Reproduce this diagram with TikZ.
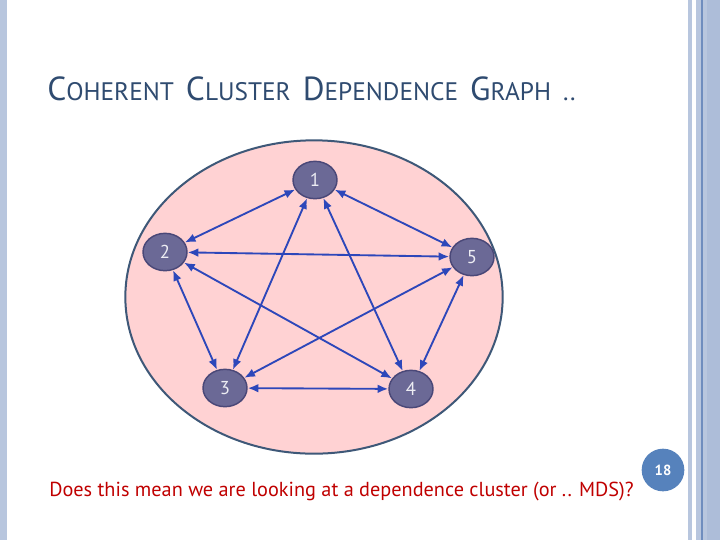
\documentclass[tikz,border=0pt]{standalone}
\usepackage{fontspec}
\setmainfont{PT Sans}
\usetikzlibrary{arrows.meta,shapes.geometric}
\definecolor{barblue}{HTML}{B8C6DE}
\definecolor{barline}{HTML}{6F8DBE}
\definecolor{titleblue}{HTML}{2F4B70}
\definecolor{clusterpink}{HTML}{FFD2D3}
\definecolor{clusterline}{HTML}{3E5878}
\definecolor{vertexfill}{HTML}{6B6996}
\definecolor{vertexline}{HTML}{4A4878}
\definecolor{edgeblue}{HTML}{2D47BA}
\definecolor{noteRed}{HTML}{C00000}
\definecolor{pageblue}{HTML}{5682BC}
\newcommand{\capbig}[1]{{\fontsize{25}{27}\selectfont #1}}
\newcommand{\capsmall}[1]{{\fontsize{19}{21}\selectfont #1}}
\newcommand{\capgap}{\hspace{9pt}}
\tikzset{
  vertex/.style={ellipse, draw=vertexline, line width=1.1pt, fill=vertexfill, minimum width=33pt, minimum height=28pt, inner sep=0pt, text=white!88!vertexfill, font=\fontsize{14}{14}\selectfont},
  cluster/.style={ellipse, draw=clusterline, line width=1.5pt, fill=clusterpink, minimum width=283pt, minimum height=235pt},
  link/.style={{Latex[length=8pt,width=6.5pt]}-{Latex[length=8pt,width=6.5pt]}, line width=1.4pt, draw=edgeblue},
  pagemark/.style={circle, fill=pageblue, minimum size=32pt, inner sep=0pt, text=white, font=\bfseries\fontsize{11}{11}\selectfont}
}

\begin{document}
\begin{tikzpicture}[x=0.75pt, y=-0.75pt]
  \useasboundingbox (0,0) rectangle (720,540);
  \fill[white] (0,0) rectangle (720,540);
  % slide borders
  \fill[barblue] (0,0) rectangle (7,540);
  \fill[barblue] (688,0) rectangle (692,540);
  \fill[barblue] (696,0) rectangle (720,540);
  \fill[barblue!85!barline] (707,0) rectangle (720,540);
  \draw[barline, line width=0.9pt] (702,0) -- (702,540);

  \node[anchor=base west, text=titleblue, inner sep=0pt] (title) at (47,100)
    {\capbig{C}\capsmall{OHERENT}\capgap\capbig{C}\capsmall{LUSTER}\capgap\capbig{D}\capsmall{EPENDENCE}\capgap\capbig{G}\capsmall{RAPH}\capgap\capsmall{..}};

  \node[cluster] (cluster) at (314,297) {};

  \node[vertex] (v1) at (315,180) {1};
  \node[vertex] (v2) at (165,252) {2};
  \node[vertex] (v5) at (472,257) {5};
  \node[vertex] (v3) at (225,388) {3};
  \node[vertex] (v4) at (411,389) {4};

  \draw[link] (v1) -- (v2);
  \draw[link] (v1) -- (v5);
  \draw[link] (v1) -- (v3);
  \draw[link] (v1) -- (v4);
  \draw[link] (v2) -- (v5);
  \draw[link] (v2) -- (v3);
  \draw[link] (v2) -- (v4);
  \draw[link] (v5) -- (v3);
  \draw[link] (v5) -- (v4);
  \draw[link] (v3) -- (v4);

  \node[anchor=base west, text=noteRed, inner sep=0pt, font=\fontsize{15.2}{17}\selectfont] (note) at (49,496)
    {Does this mean we are looking at a dependence cluster (or .. MDS)?};
  \node[pagemark] (page) at (663,470) {18};
\end{tikzpicture}
\end{document}
